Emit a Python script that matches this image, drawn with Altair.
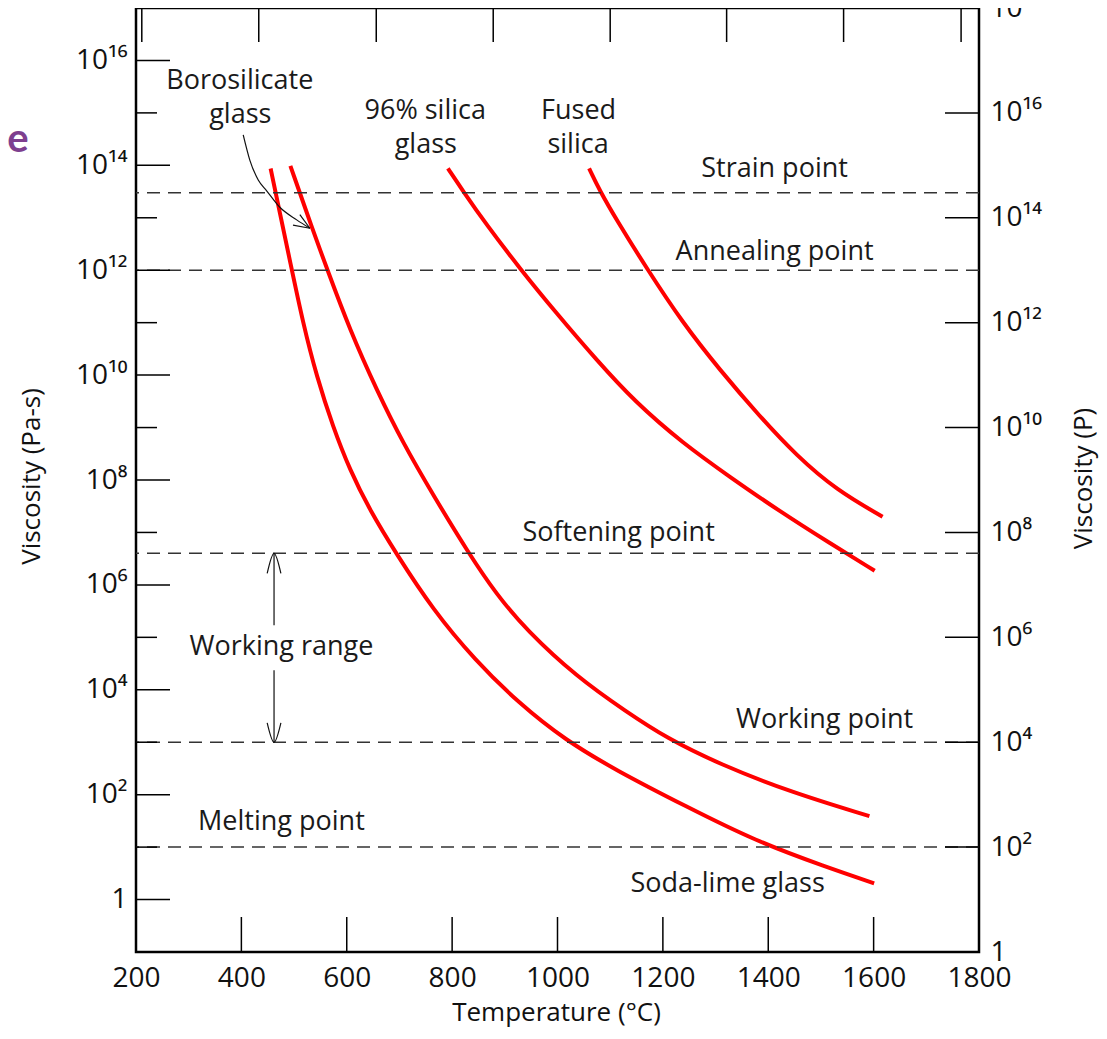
import altair as alt
import pandas as pd

# ---------------- data ----------------
# temperature (°C) and log10 of viscosity (Pa-s) along each curve
soda_T = [455.5, 473.5, 492, 517, 543, 574, 606, 644, 693, 764, 843, 927, 1015, 1110, 1245, 1375, 1510, 1601]
soda_logv = [13.94, 13.07, 12.19, 10.99, 9.97, 9.01, 8.19, 7.42, 6.61, 5.52, 4.57, 3.74, 3.04, 2.47, 1.77, 1.12, 0.62, 0.31]

boro_T = [493, 535.5, 562, 606, 657, 707, 766, 831, 884, 941, 1036, 1131, 1207, 1308, 1442, 1592]
boro_logv = [13.99, 12.77, 12.04, 10.86, 9.71, 8.70, 7.68, 6.61, 5.82, 5.14, 4.25, 3.58, 3.08, 2.58, 2.05, 1.59]

silica96_T = [792, 820, 865, 928, 998, 1074, 1147, 1238, 1327, 1422, 1516, 1602]
silica96_logv = [13.94, 13.52, 12.87, 12.04, 11.18, 10.29, 9.49, 8.70, 8.06, 7.40, 6.80, 6.27]

fused_T = [1060, 1080, 1112, 1169, 1238, 1308, 1384, 1453, 1529, 1617]
fused_logv = [13.94, 13.52, 12.96, 12.04, 10.99, 10.10, 9.21, 8.47, 7.81, 7.30]

# reference viscosity levels (Pa-s)
ref_names = ["Strain point", "Annealing point", "Softening point", "Working point", "Melting point"]
ref_visc = [3e13, 1e12, 4e6, 1e3, 1e1]

# axes
x_label_vals = [200, 400, 600, 800, 1000, 1200, 1400, 1600, 1800]
bottom_tick_T = [400, 600, 800, 1000, 1200, 1400, 1600]
top_tick_T = [211, 433, 656, 878, 1100, 1321, 1543, 1766]
left_label_vals = [1e0, 1e2, 1e4, 1e6, 1e8, 1e10, 1e12, 1e14, 1e16]
left_label_text = ["1", "10²", "10⁴", "10⁶", "10⁸", "10¹⁰", "10¹²", "10¹⁴", "10¹⁶"]
left_minor_vals = [1e1, 1e3, 1e5, 1e7, 1e9, 1e11, 1e13, 1e15]
right_label_vals = [1e0, 1e2, 1e4, 1e6, 1e8, 1e10, 1e12, 1e14, 1e16, 1e18]  # poise
right_label_text = ["1", "10²", "10⁴", "10⁶", "10⁸", "10¹⁰", "10¹²", "10¹⁴", "10¹⁶", "10¹⁸"]

# text annotations: text, temperature, log10 viscosity of baseline
note_text = ["Borosilicate", "glass", "96% silica", "glass", "Fused", "silica",
             "Strain point", "Annealing point", "Softening point", "Working range",
             "Working point", "Melting point", "Soda-lime glass"]
note_T = [397, 398, 749, 750, 1040, 1039, 1412, 1412, 1116, 476, 1507, 476, 1323]
note_logv = [15.45, 14.81, 14.88, 14.24, 14.88, 14.24, 13.78, 12.19, 6.84, 4.66, 3.27, 1.32, 0.145]

# arrows (temperature, log10 viscosity), one group per stroke
arrow_groups = {
    "boro_shaft": ([403.5, 416, 432, 448, 473, 505, 530], [14.58, 14.10, 13.72, 13.515, 13.20, 12.96, 12.80]),
    "boro_barb1": ([511, 530], [13.06, 12.80]),
    "boro_barb2": ([498, 530], [12.86, 12.80]),
    "wr_up": ([462, 462], [6.602, 5.23]),
    "wr_up_b1": ([449, 462, 475], [6.22, 6.602, 6.22]),
    "wr_down": ([462, 462], [4.37, 3.0]),
    "wr_down_b1": ([449, 462, 475], [3.37, 3.0, 3.37]),
}

FONT = "Open Sans"
W, H = 843, 944

# ---------------- tables ----------------
rows = []
for name, Ts, Ls in [("Soda-lime", soda_T, soda_logv), ("Borosilicate", boro_T, boro_logv),
                     ("96% silica", silica96_T, silica96_logv), ("Fused silica", fused_T, fused_logv)]:
    for t, l in zip(Ts, Ls):
        rows.append({"glass": name, "T": t, "v": 10 ** l})
curves_df = pd.DataFrame(rows)

ref_df = pd.DataFrame({"name": ref_names, "v": ref_visc})
notes_df = pd.DataFrame({"label": note_text, "T": note_T, "v": [10 ** l for l in note_logv]})

arows = []
for g, (Ts, Ls) in arrow_groups.items():
    for i, (t, l) in enumerate(zip(Ts, Ls)):
        arows.append({"g": g, "i": i, "T": t, "v": 10 ** l})
arrow_df = pd.DataFrame(arows)

xscale = alt.Scale(domain=[200, 1800], nice=False, zero=False)
yscale = alt.Scale(type="log", domain=[0.1, 1e17], nice=False)
pscale = alt.Scale(type="log", domain=[1, 1e18], nice=False)


def lab_expr(texts):
    arr = ",".join("'" + t + "'" for t in texts)
    return "[" + arr + "][round(log(datum.value)/LN10/2)]"


xaxis = alt.Axis(values=x_label_vals, format="d", ticks=False, domain=False, grid=False,
                 labelPadding=12, labelFontSize=28, labelFont=FONT, labelColor="#111",
                 labelFlush=False, labelOverlap=False,
                 title="Temperature (°C)", titleFont=FONT, titleFontSize=26, titleFontWeight="normal",
                 titleColor="#111", titleX=420, titleY=60, titleAlign="center", titleBaseline="middle")
yaxis = alt.Axis(values=left_label_vals, labelExpr=lab_expr(left_label_text), orient="left",
                 ticks=False, domain=False, grid=False, labelPadding=9,
                 labelFontSize=28, labelFont=FONT, labelColor="#111", labelFlush=False, labelOverlap=False,
                 title="Viscosity (Pa-s)", titleFont=FONT, titleFontSize=26, titleFontWeight="normal",
                 titleColor="#111", titleAngle=270, titleX=-105, titleY=468,
                 titleAlign="center", titleBaseline="middle")
paxis = alt.Axis(values=right_label_vals, labelExpr=lab_expr(right_label_text), orient="right",
                 ticks=False, domain=False, grid=False, labelPadding=11,
                 labelFontSize=28, labelFont=FONT, labelColor="#111", labelFlush=False, labelOverlap=False,
                 title="Viscosity (P)", titleFont=FONT, titleFontSize=26, titleFontWeight="normal",
                 titleColor="#111", titleAngle=270, titleX=104, titleY=470,
                 titleAlign="center", titleBaseline="middle")

Y_NONE = dict(scale=yscale, axis=None)
XS = dict(scale=xscale, axis=xaxis)   # identical x axis in every layer so it merges

ref_lines = alt.Chart(ref_df).mark_rule(color="#333333", strokeWidth=1.5, strokeDash=[13, 8]).encode(
    y=alt.Y("v:Q", **Y_NONE))

curves = alt.Chart(curves_df).mark_line(color="#ff0000", strokeWidth=4, interpolate="basis",
                                        strokeCap="butt").encode(
    x=alt.X("T:Q", **XS),
    y=alt.Y("v:Q", scale=yscale, axis=yaxis),
    detail="glass:N")

arrows = alt.Chart(arrow_df).mark_line(color="#111111", strokeWidth=1.2, interpolate="monotone").encode(
    x=alt.X("T:Q", **XS), y=alt.Y("v:Q", **Y_NONE), detail="g:N", order="i:Q")

notes = alt.Chart(notes_df).mark_text(font=FONT, fontSize=27, align="center", baseline="alphabetic",
                                      color="#1a1a1a").encode(
    x=alt.X("T:Q", **XS), y=alt.Y("v:Q", **Y_NONE), text="label:N")

panel_letter = alt.Chart(pd.DataFrame({"t": ["e"], "T": [-24], "v": [10 ** 14.25]})).mark_text(
    font="Lato", fontWeight="bold", fontSize=40, color="#7e3f8f", align="center", baseline="alphabetic").encode(
    x=alt.X("T:Q", **XS), y=alt.Y("v:Q", **Y_NONE), text="t:N")

tick_style = dict(color="black", strokeWidth=1.5)
left_major = alt.Chart(pd.DataFrame({"v": left_label_vals})).mark_rule(**tick_style).encode(
    y=alt.Y("v:Q", **Y_NONE), x=alt.value(0), x2=alt.value(34))
left_minor = alt.Chart(pd.DataFrame({"v": left_minor_vals})).mark_rule(**tick_style).encode(
    y=alt.Y("v:Q", **Y_NONE), x=alt.value(0), x2=alt.value(21))
bottom_ticks = alt.Chart(pd.DataFrame({"T": bottom_tick_T})).mark_rule(**tick_style).encode(
    x=alt.X("T:Q", **XS), y=alt.value(H - 35), y2=alt.value(H))
top_ticks = alt.Chart(pd.DataFrame({"T": top_tick_T})).mark_rule(**tick_style).encode(
    x=alt.X("T:Q", **XS), y=alt.value(0), y2=alt.value(34))

right_ticks = alt.Chart(pd.DataFrame({"p": right_label_vals})).mark_rule(**tick_style).encode(
    y=alt.Y("p:Q", scale=pscale, axis=paxis), x=alt.value(W - 34), x2=alt.value(W),
    opacity=alt.condition("datum.p > 1.5 && datum.p < 1e17", alt.value(1), alt.value(0)))

chart = alt.layer(curves, ref_lines, arrows, notes, panel_letter,
                  left_major, left_minor, bottom_ticks, top_ticks, right_ticks).resolve_scale(
    y="independent").properties(
    width=W, height=H,
    autosize=alt.AutoSizeParams(type="none"),
    padding={"left": 128, "top": 0, "right": 120, "bottom": 79},
).configure_view(stroke="black", strokeWidth=2.5)

chart.save("out.html", embed_options={"renderer": "svg", "actions": False})
